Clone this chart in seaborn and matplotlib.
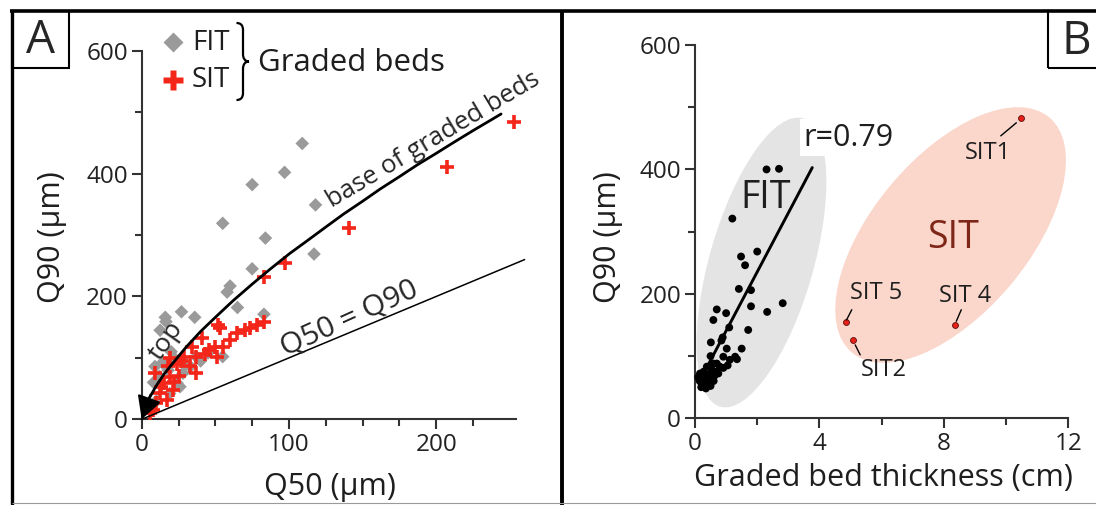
import matplotlib
matplotlib.use('Agg')
import matplotlib.pyplot as plt
import seaborn as sns
from matplotlib.patches import Ellipse, Rectangle, PathPatch
from matplotlib.path import Path
from matplotlib.lines import Line2D
from matplotlib.transforms import Affine2D

# ---------------- data ----------------
# Panel A: Q50 vs Q90 of graded beds
fit_q50 = [109, 97, 75, 118, 55, 84, 117, 75, 60, 58, 65, 83, 27, 36, 16, 16.5, 12.5, 9, 26, 33,
           37, 28, 24, 19, 26, 55, 14, 20, 22, 30, 8, 12, 10, 6, 40, 45, 18]
fit_q90a = [449, 402, 382, 349, 319, 295, 269, 245, 217, 207, 182, 171, 175, 166, 166, 159, 145, 86, 97, 86,
            102, 75, 59, 42, 53, 102, 92, 110, 100, 90, 60, 70, 30, 20, 95, 108, 80]
sit_q50 = [253, 207, 141, 97, 83, 83, 78, 73.5, 70, 64.5, 52, 60, 55, 50, 46, 41, 43, 37, 51, 34,
           29, 37, 33, 9, 18, 19, 15, 21.5, 12.4, 17, 10, 8, 5.6, 53, 24, 27, 13, 22, 19, 25]
sit_q90a = [484, 410, 311, 254, 232, 159, 153, 148, 145, 140, 153, 129, 118, 118, 113, 132, 107, 102, 102, 118,
            102, 75, 86, 75, 86, 69, 59, 48, 42, 31, 26, 15, 10, 148, 90, 95, 52, 60, 100, 70]
base_q50 = [0, 2, 5, 10, 15, 20, 30, 40, 50, 62, 75, 87, 100, 112, 125, 137, 150, 162, 175, 187,
            200, 212, 225, 237, 244]
base_q90 = [0, 18, 34, 55, 73, 88, 117, 143, 166, 193, 220, 244, 269, 290, 313, 334, 355, 375, 395, 414,
            433, 451, 470, 487, 497]
equal_q = [0, 260]

# Panel B: graded bed thickness vs Q90
fitB_thick = [2.3, 2.7, 1.2, 2.0, 1.48, 1.61, 1.41, 1.8, 1.8, 2.82, 2.32, 0.7, 1.0, 0.59, 1.71, 1.1, 0.51, 1.5,
              0.89, 0.85, 1.02, 1.29, 0.5, 0.91, 1.12, 0.59, 0.8, 0.38, 0.54, 0.91, 0.16, 0.32, 0.48, 0.21,
              0.38, 0.7, 0.65, 0.25, 0.42, 0.3, 0.55, 0.1, 0.45, 0.6, 0.75, 1.05, 0.35, 0.28, 0.15, 1.35,
              0.2, 0.5, 0.62, 0.4]
fitB_q90 = [400, 401, 321, 268, 260, 246, 208, 206, 180, 185, 171, 175, 169, 158, 142, 146, 122, 112,
            130, 125, 112, 99, 100, 99, 94, 88, 83, 83, 78, 81, 72, 67, 62, 56,
            51, 88, 75, 64, 70, 58, 66, 66, 55, 60, 72, 85, 48, 75, 60, 95,
            50, 52, 68, 60]
sitB_names = ['SIT1', 'SIT 5', 'SIT2', 'SIT 4']
sitB_thick = [10.49, 4.87, 5.07, 8.37]
sitB_q90 = [483, 155, 126, 150]
rline_thick = [0.15, 3.77]
rline_q90 = [60, 403]

A_xticks = [0, 100, 200]
A_xminor = [25, 50, 75, 125, 150, 175, 225]
B_xticks = [0, 4, 8, 12]
B_xminor = [2, 6, 10]
Q_yticks = [0, 200, 400, 600]
Q_yminor = [100, 300, 500]

# ---------------- style ----------------
sns.set_style('ticks')
plt.rcParams['font.family'] = ['Open Sans', 'DejaVu Sans']

W, H = 1096, 505
fig = plt.figure(figsize=(W / 100, H / 100), dpi=100)
fig.patch.set_facecolor('white')
T = Affine2D().scale(1 / W, 1 / H) + fig.transFigure   # image-pixel coords (y up)


def P(x, y):
    return (x, H - y)


GRAY = '#9a9a9a'
RED = '#f4261a'
AX = '#333333'
TXT = '#1e1e1e'

axA = fig.add_axes([141.7 / W, (H - 419.3) / H, 374.1 / W, 368.6 / H])
axB = fig.add_axes([695 / W, (H - 418.3) / H, 373.3 / W, 373.3 / H])


def style(ax):
    ax.set_facecolor('none')
    for s in ['top', 'right']:
        ax.spines[s].set_visible(False)
    for s in ['left', 'bottom']:
        ax.spines[s].set_color(AX)
        ax.spines[s].set_linewidth(1.5)
    ax.tick_params(which='major', direction='out', length=7.5, width=1.5, color=AX,
                   labelsize=17.5, labelcolor='#222222', pad=2.5)
    ax.tick_params(which='minor', direction='out', length=5, width=1.5, color=AX)


# ---------------- Panel A ----------------
sns.scatterplot(x=fit_q50, y=fit_q90a, ax=axA, marker='D', color=GRAY, s=48,
                edgecolor='none', linewidth=0, zorder=3, clip_on=False)
sns.scatterplot(x=sit_q50, y=sit_q90a, ax=axA, marker='+', color=RED, s=110,
                linewidth=2.6, zorder=4, clip_on=False)
sns.lineplot(x=base_q50, y=base_q90, ax=axA, color='black', lw=2.0, sort=False,
             estimator=None, zorder=5)
sns.lineplot(x=equal_q, y=equal_q, ax=axA, color='black', lw=1.1, sort=False,
             estimator=None, zorder=5, clip_on=False)
axA.annotate('', xy=(0, 0), xytext=(6, 40),
             arrowprops=dict(arrowstyle='-|>,head_length=0.7,head_width=0.38', color='black',
                             lw=1.5, mutation_scale=20, shrinkA=0, shrinkB=0),
             annotation_clip=False, zorder=6)

axA.set_xlim(0, 254)
axA.set_ylim(0, 600)
axA.set_xticks(A_xticks)
axA.set_xticks(A_xminor, minor=True)
axA.set_yticks(Q_yticks)
axA.set_yticks(Q_yminor, minor=True)
style(axA)

axA.text(197.8, 454.7, 'base of graded beds', fontsize=18.5, rotation=30.8,
         ha='center', va='center', rotation_mode='anchor', zorder=6)
axA.text(140.7, 164.4, 'Q50 = Q90', fontsize=21.5, rotation=24.4,
         ha='center', va='center', rotation_mode='anchor', zorder=6)
axA.text(16.5, 128, 'top', fontsize=19, rotation=55,
         ha='center', va='center', rotation_mode='anchor', zorder=6)

# axis labels placed at their pixel positions
fig.text(*P(330, 487), 'Q50 (µm)', fontsize=22, ha='center', va='center', transform=T, color=TXT)
fig.text(*P(52, 237), 'Q90 (µm)', fontsize=22, ha='center', va='center', rotation=90,
         transform=T, color=TXT)

# legend of panel A
axA.plot(*P(173, 41.7), marker='D', ms=10, color=GRAY, mec='none', transform=T, clip_on=False)
axA.plot(*P(173, 80), marker='P', ms=15, color=RED, mec='none', transform=T, clip_on=False)
axA.text(*P(192, 43), 'FIT', fontsize=20, ha='left', va='center', transform=T, color=TXT)
axA.text(*P(192, 80), 'SIT', fontsize=20, ha='left', va='center', transform=T, color=TXT)
axA.text(*P(258, 63), 'Graded beds', fontsize=22.5, ha='left', va='center', transform=T, color=TXT)
brace_pts = [(236.5, 23), (240.5, 23), (243, 25), (243, 30), (243, 54),
             (243, 58.5), (245, 61.5), (249, 61.5), (245, 61.5), (243, 64.5), (243, 69),
             (243, 93), (243, 98), (240.5, 100), (236.5, 100)]
codes = [Path.MOVETO, Path.CURVE4, Path.CURVE4, Path.CURVE4, Path.LINETO,
         Path.CURVE4, Path.CURVE4, Path.CURVE4, Path.CURVE4, Path.CURVE4, Path.CURVE4,
         Path.LINETO, Path.CURVE4, Path.CURVE4, Path.CURVE4]
brace = Path([P(x, y) for x, y in brace_pts], codes)
fig.add_artist(PathPatch(brace, transform=T, fill=False, lw=1.6, ec='black'))

# ---------------- Panel B ----------------
axB.add_patch(Ellipse(P(761.5, 262.5), width=300, height=104, angle=74, transform=T,
                      fc='#e4e4e4', ec='none', zorder=0, clip_on=False))
axB.add_patch(Ellipse(P(950.6, 235), width=307, height=156, angle=50, transform=T,
                      fc='#fbd6ca', ec='none', zorder=0, clip_on=False))
sns.scatterplot(x=fitB_thick, y=fitB_q90, ax=axB, color='black', s=32,
                edgecolor='none', linewidth=0, zorder=3, clip_on=False)
sns.lineplot(x=rline_thick, y=rline_q90, ax=axB, color='black', lw=2.1, sort=False,
             estimator=None, zorder=4)
sns.scatterplot(x=sitB_thick, y=sitB_q90, ax=axB, color='#e8201a', s=18,
                edgecolor='#5a0a05', linewidth=0.6, zorder=5, clip_on=False)

axB.set_xlim(0, 12)
axB.set_ylim(0, 600)
axB.set_xticks(B_xticks)
axB.set_xticks(B_xminor, minor=True)
axB.set_yticks(Q_yticks)
axB.set_yticks(Q_yminor, minor=True)
style(axB)

axB.text(4.93, 451, 'r=0.79', fontsize=22, ha='center', va='center', zorder=6, color=TXT,
         bbox=dict(boxstyle='square,pad=0.12', fc='white', ec='none'))
axB.text(2.28, 354, 'FIT', fontsize=27, ha='center', va='center', color=TXT, zorder=6)
axB.text(8.29, 289, 'SIT', fontsize=27, ha='center', va='center', color='#7e2618', zorder=6)

lab_pos = [(9.41, 427), (5.81, 201), (6.08, 78), (8.67, 196)]
lead = [((9.83, 454), (10.33, 475)), ((5.04, 174.5), (4.87, 158)),
        ((5.15, 118), (5.31, 102)), ((8.56, 174.5), (8.40, 156))]
for name, (tx, ty), ((x0, y0), (x1, y1)) in zip(sitB_names, lab_pos, lead):
    axB.text(tx, ty, name, fontsize=17, ha='center', va='center', color=TXT, zorder=6)
    axB.plot([x0, x1], [y0, y1], color='black', lw=1.0, zorder=6)

fig.text(*P(883, 478), 'Graded bed thickness (cm)', fontsize=22, ha='center', va='center',
         transform=T, color=TXT)
fig.text(*P(608, 237), 'Q90 (µm)', fontsize=22, ha='center', va='center', rotation=90,
         transform=T, color=TXT)

# ---------------- frame & panel tags ----------------
def frame_line(x0, y0, x1, y1, lw, color='black'):
    fig.add_artist(Line2D([x0, x1], [H - y0, H - y1], transform=T, lw=lw, color=color,
                          solid_capstyle='butt'))


frame_line(10, 10.7, 1096, 10.7, 2.6)
frame_line(11.7, 9.5, 11.7, 505, 2.4)
frame_line(561.7, 9.5, 561.7, 505, 2.8)
frame_line(11.7, 503.3, 1096, 503.3, 0.8, '#9a9a9a')

fig.add_artist(Rectangle(P(12, 68.3), 57.3, 57, transform=T, fill=False, lw=1.5, ec='black'))
fig.add_artist(Rectangle(P(1047.7, 68.3), 60, 57, transform=T, fill=False, lw=1.5, ec='black'))
fig.text(*P(40.5, 41), 'A', transform=T, fontsize=33, ha='center', va='center')
fig.text(*P(1076.5, 41.5), 'B', transform=T, fontsize=33, ha='center', va='center')

fig.savefig('out.png', dpi=100)
